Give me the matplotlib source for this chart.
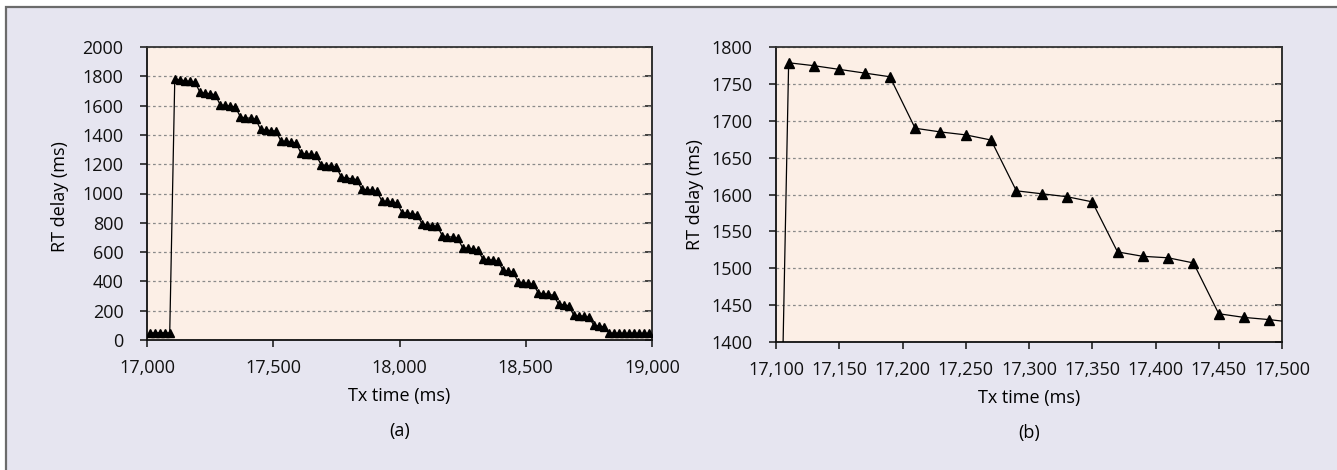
import matplotlib.pyplot as plt
from matplotlib.patches import Rectangle
from matplotlib.ticker import StrMethodFormatter

plt.rcParams['font.family'] = ['Open Sans', 'DejaVu Sans']
plt.rcParams['font.size'] = 13

# Tx time (ms), one sample every 20 ms
tx_time = list(range(17010, 19000, 20))

# RT delay (ms) for each sample
rt_delay = [
    50, 48, 50, 49, 48,                      # before the jump
    1779, 1775, 1770, 1765, 1760,
    1690, 1685, 1681, 1674,
    1605, 1601, 1597, 1590,
    1522, 1516, 1514, 1507,
    1438, 1433, 1430, 1426,
    1360, 1355, 1351, 1345,
    1275, 1270, 1267, 1260,
    1195, 1191, 1186, 1180,
    1110, 1106, 1101, 1095,
    1030, 1026, 1022, 1015,
    950, 946, 941, 935,
    870, 866, 862, 855,
    790, 786, 781, 775,
    710, 706, 702, 695,
    630, 626, 621, 615,
    553, 549, 545, 538,
    475, 470, 464,
    395, 391, 386, 380,
    320, 316, 312, 305,
    245, 240, 234,
    170, 166, 162, 155,
    100, 96, 90,
    48, 47, 48, 46, 47, 48, 46, 47, 46,      # after the drop
]

lavender = '#e6e5f0'
peach = '#fcefe6'

fig = plt.figure(figsize=(13.37, 4.70), dpi=100, facecolor='white')
fig.patches.append(Rectangle((6 / 1337, -0.1), 1.1, (470 - 7) / 470 + 0.1,
                             transform=fig.transFigure, facecolor=lavender,
                             edgecolor='#6b6b6b', linewidth=1.6, zorder=-10))

ax1 = fig.add_axes([147 / 1337, 130 / 470, 505 / 1337, 293 / 470])
ax2 = fig.add_axes([776 / 1337, 128.3 / 470, 506 / 1337, 294.4 / 470])

def style(ax, xticks, yticks, label):
    ax.set_facecolor(peach)
    ax.plot(tx_time, rt_delay, color='black', lw=0.9, marker='^',
            markersize=5.8 if label == '(a)' else 6.5, markerfacecolor='black',
            markeredgecolor='black', zorder=3)
    ax.set_xlim(xticks[0], xticks[-1])
    ax.set_ylim(yticks[0], yticks[-1])
    ax.set_xticks(xticks)
    ax.set_yticks(yticks)
    ax.xaxis.set_major_formatter(StrMethodFormatter('{x:,.0f}'))
    ax.tick_params(axis='both', direction='out', length=5, width=1.2,
                   color='#222222', labelcolor='#111111')
    ax.tick_params(axis='x', pad=9)
    ax.tick_params(axis='y', pad=12)
    ax.yaxis.grid(True, color='#8a8a8a', linestyle=(0, (2.2, 2.2)), linewidth=0.9)
    for s in ['left', 'bottom']:
        ax.spines[s].set_color('#111111')
        ax.spines[s].set_linewidth(1.3)
    for s in ['top', 'right']:
        ax.spines[s].set_color('#333333')
        ax.spines[s].set_linewidth(1.3)
    sec = ax.secondary_yaxis('right')
    sec.set_yticks(yticks)
    sec.tick_params(direction='in', length=5, width=1.2, color='#222222',
                    labelright=False)
    sec.spines['right'].set_color('#333333')
    sec.spines['right'].set_linewidth(1.3)
    ax.set_xlabel('Tx time (ms)')
    ax.set_ylabel('RT delay (ms)')
    ax.xaxis.label.set_va('center')
    ax.yaxis.label.set_va('center')
    ax.xaxis.set_label_coords(0.5, -0.19)
    ax.text(0.5, -0.31, label, transform=ax.transAxes, ha='center', va='center')

style(ax1, list(range(17000, 19001, 500)), list(range(0, 2001, 200)), '(a)')
ax1.yaxis.set_label_coords(-0.172, 0.49)
style(ax2, list(range(17100, 17501, 50)), list(range(1400, 1801, 50)), '(b)')
ax2.yaxis.set_label_coords(-0.16, 0.5)

fig.savefig('out.png', dpi=100, facecolor='white')
